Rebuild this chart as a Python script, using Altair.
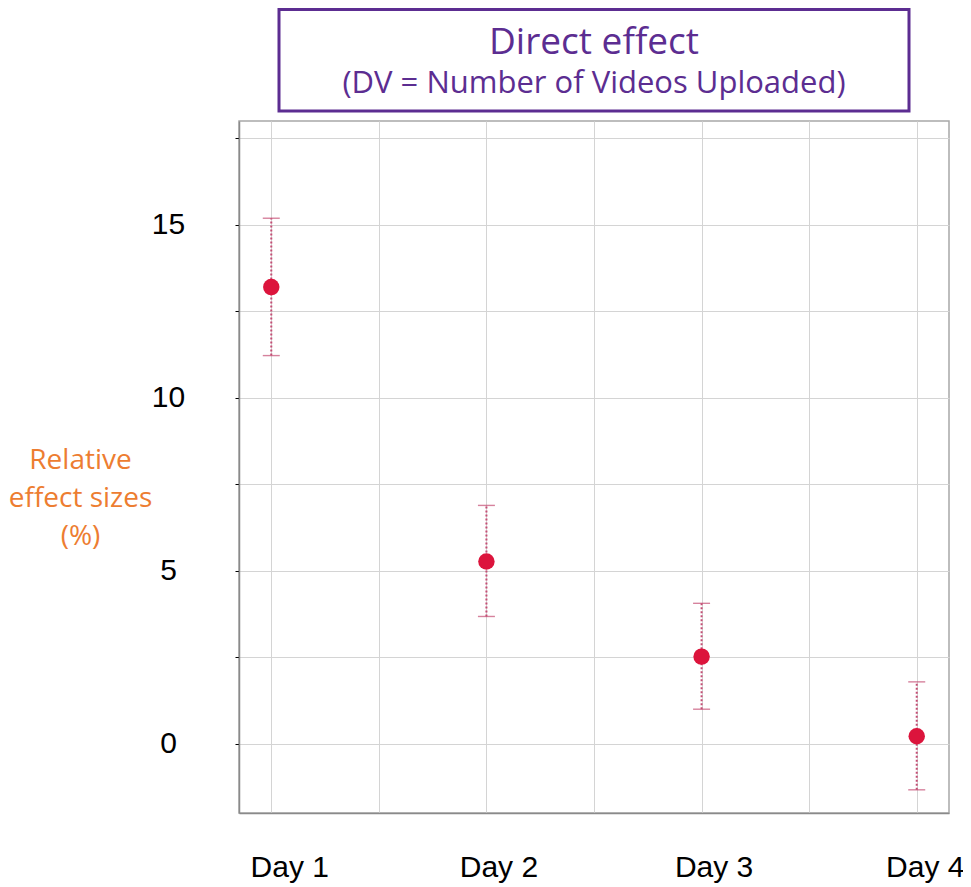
import altair as alt
import pandas as pd

# ---- data ----
days = ["Day 1", "Day 2", "Day 3", "Day 4"]
day_pos = [1, 2, 3, 4]
effect = [13.2, 5.27, 2.52, 0.22]
ci_low = [11.22, 3.68, 1.0, -1.33]
ci_high = [15.19, 6.89, 4.06, 1.79]

title_main = "Direct effect"
title_sub = "(DV = Number of Videos Uploaded)"
y_title = ["Relative", "effect sizes", "(%)"]

y_ticks = [0, 2.5, 5, 7.5, 10, 12.5, 15, 17.5]
x_ticks = [1, 1.5, 2, 2.5, 3, 3.5, 4]

df = pd.DataFrame({"day": days, "pos": day_pos, "effect": effect,
                   "lo": ci_low, "hi": ci_high})

PURPLE = "#5c2d91"
ORANGE = "#ED7D31"
ERR = "#c44d74"

x_axis = alt.Axis(values=x_ticks,
                  labelExpr="datum.value % 1 == 0 ? 'Day ' + datum.value : ''",
                  title=None, ticks=False, tickSize=0,
                  labelFont="Liberation Sans", labelFontSize=30, labelColor="black",
                  labelBaseline="alphabetic", labelPadding=63,
                  labelOffset={"condition": [{"test": "datum.value == 1", "value": 18},
                                             {"test": "datum.value == 4", "value": 8}],
                               "value": 12},
                  labelFlush=False, labelOverlap=False,
                  grid=True, gridColor="#d4d4d4", gridWidth=1,
                  domainColor="#8a8a8a", domainWidth=1.5)
y_axis = alt.Axis(values=y_ticks,
                  labelExpr="datum.value % 5 == 0 ? datum.label : ''",
                  title=y_title, titleAngle=0, titleX=-159, titleY=347,
                  titleAlign="center", titleBaseline="alphabetic",
                  titleFont="Open Sans", titleFontSize=28, titleFontWeight="normal",
                  titleColor=ORANGE, titleLineHeight=38,
                  labelFont="Liberation Sans", labelFontSize=30, labelColor="black",
                  labelAlign="center", labelBaseline="middle", labelPadding=67,
                  labelFlush=False, labelOverlap=False,
                  tickSize=4, tickColor="black", tickWidth=1,
                  grid=True, gridColor="#d4d4d4", gridWidth=1,
                  domainColor="#8a8a8a", domainWidth=1.5)

x_scale = alt.Scale(domain=[0.85, 4.15], nice=False, zero=False)
y_scale = alt.Scale(domain=[-2, 18], nice=False, zero=False)

def X():
    return alt.X("pos:Q", scale=x_scale, axis=x_axis)

def Y(field):
    return alt.Y(f"{field}:Q", scale=y_scale, axis=y_axis)

base = alt.Chart(df)

rules = base.mark_rule(color=ERR, strokeDash=[2, 2], strokeWidth=2).encode(
    x=X(), y=Y("lo"), y2="hi:Q")
cap_lo = base.mark_tick(color=ERR, orient="horizontal", size=17, thickness=1.4).encode(
    x=X(), y=Y("lo"))
cap_hi = base.mark_tick(color=ERR, orient="horizontal", size=17, thickness=1.4).encode(
    x=X(), y=Y("hi"))
points = base.mark_circle(color="#dc143c", opacity=1, size=270).encode(
    x=X(), y=Y("effect"))

tdf = pd.DataFrame({"main": [title_main], "sub": [title_sub]})
box = alt.Chart(tdf).mark_rect(fill="white", stroke=PURPLE, strokeWidth=3).encode(
    x=alt.value(40), x2=alt.value(670), y=alt.value(-111.5), y2=alt.value(-10))
t1 = alt.Chart(tdf).mark_text(font="Open Sans", fontSize=37, color=PURPLE,
                              align="center", baseline="alphabetic").encode(
    text="main:N", x=alt.value(355), y=alt.value(-67))
t2 = alt.Chart(tdf).mark_text(font="Open Sans", fontSize=31, color=PURPLE,
                              align="center", baseline="alphabetic").encode(
    text="sub:N", x=alt.value(355), y=alt.value(-28))

chart = alt.layer(rules, cap_lo, cap_hi, points, box, t1, t2).properties(
    width=710, height=692,
    autosize=alt.AutoSizeParams(type="none"),
    padding={"left": 231, "top": 113, "right": 14, "bottom": 72},
).configure_view(stroke="#a8a8a8", strokeWidth=1.5)

chart.save("out.html", embed_options={"renderer": "svg", "actions": False})
